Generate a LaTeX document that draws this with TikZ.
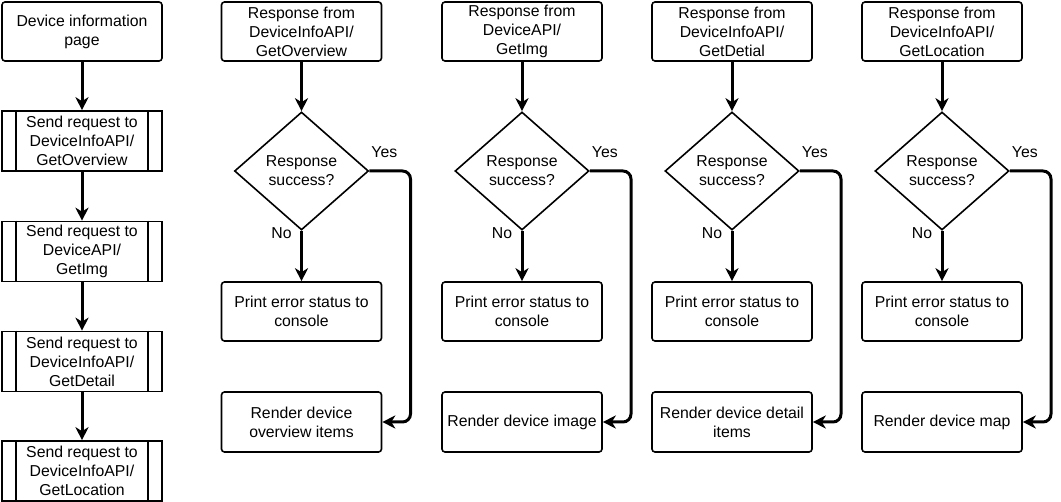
\documentclass[tikz,border=0pt]{standalone}
\usepackage{fontspec}
\setmainfont{Liberation Sans}
\usetikzlibrary{shapes.geometric,arrows.meta}
\begin{document}
\begin{tikzpicture}[x=1pt,y=-1pt,
  txt/.style={font=\fontsize{15.8}{19}\selectfont},
  box/.style={txt,draw,line width=1.6pt,rounded corners=3pt,minimum width=160pt,minimum height=59pt,inner sep=1pt,align=center},
  subbox/.style={box,rounded corners=0pt,minimum height=60pt},
  dec/.style={txt,draw,line width=1.6pt,shape=diamond,aspect=1,minimum width=134pt,minimum height=118pt,inner sep=0pt,align=center},
  arr/.style={line width=3pt,-{Stealth[length=13pt,width=13pt,inset=4pt]}},
  yesarr/.style={arr,rounded corners=8pt},
  lbl/.style={txt,inner sep=0pt}
]
\useasboundingbox (0,0) rectangle (1061,502);

% left column
\node[box] (dip) at (82,31.5) {Device information\\page};
\node[subbox] (s1) at (82,141) {Send request to\\DeviceInfoAPI/\\GetOverview};
\node[subbox] (s2) at (82,251.5) {Send request to\\DeviceAPI/\\GetImg};
\node[subbox] (s3) at (82,361.5) {Send request to\\DeviceInfoAPI/\\GetDetail};
\node[subbox] (s4) at (82,471) {Send request to\\DeviceInfoAPI/\\GetLocation};
\foreach \n in {s1,s2,s3,s4}{
  \draw[line width=1.6pt] ([xshift=15pt]\n.north west) -- ([xshift=15pt]\n.south west);
  \draw[line width=1.6pt] ([xshift=-15pt]\n.north east) -- ([xshift=-15pt]\n.south east);
}
\draw[arr] (dip.south) -- (s1.north);
\draw[arr] (s1.south) -- (s2.north);
\draw[arr] (s2.south) -- (s3.north);
\draw[arr] (s3.south) -- (s4.north);

% column A
\node[box] (ta) at (301.5,31.5) {Response from\\DeviceInfoAPI/\\GetOverview};
\node[dec] (da) at (301.5,171) {Response\\success?};
\node[box] (pa) at (301.5,311.5) {Print error status to\\console};
\node[box,minimum height=60pt] (ra) at (301.5,422) {Render device\\overview items};
\coordinate (ca) at (410.5,171);
\draw[arr] (ta.south) -- (da.north);
\draw[arr] (da.south) -- (pa.north);
\draw[yesarr] (da.east) -- (ca) -- (ca |- ra.east) -- (ra.east);
\node[lbl] (ya) at ([shift={(15,-19)}]da.east) {Yes};
\node[lbl] (na) at ([shift={(-20,2)}]da.south) {No};

% column B
\node[box] (tb) at (522,31.5) {Response from\\DeviceAPI/\\GetImg};
\node[dec] (db) at (522,171) {Response\\success?};
\node[box] (pb) at (522,311.5) {Print error status to\\console};
\node[box,minimum height=60pt] (rb) at (522,422) {Render device image};
\coordinate (cb) at (631,171);
\draw[arr] (tb.south) -- (db.north);
\draw[arr] (db.south) -- (pb.north);
\draw[yesarr] (db.east) -- (cb) -- (cb |- rb.east) -- (rb.east);
\node[lbl] (yb) at ([shift={(15,-19)}]db.east) {Yes};
\node[lbl] (nb) at ([shift={(-20,2)}]db.south) {No};

% column C
\node[box] (tc) at (732,31.5) {Response from\\DeviceInfoAPI/\\GetDetial};
\node[dec] (dc) at (732,171) {Response\\success?};
\node[box] (pc) at (732,311.5) {Print error status to\\console};
\node[box,minimum height=60pt] (rc) at (732,422) {Render device detail\\items};
\coordinate (cc) at (841,171);
\draw[arr] (tc.south) -- (dc.north);
\draw[arr] (dc.south) -- (pc.north);
\draw[yesarr] (dc.east) -- (cc) -- (cc |- rc.east) -- (rc.east);
\node[lbl] (yc) at ([shift={(15,-19)}]dc.east) {Yes};
\node[lbl] (nc) at ([shift={(-20,2)}]dc.south) {No};

% column D
\node[box] (td) at (942,31.5) {Response from\\DeviceInfoAPI/\\GetLocation};
\node[dec] (dd) at (942,171) {Response\\success?};
\node[box] (pd) at (942,311.5) {Print error status to\\console};
\node[box,minimum height=60pt] (rd) at (942,422) {Render device map};
\coordinate (cd) at (1051,171);
\draw[arr] (td.south) -- (dd.north);
\draw[arr] (dd.south) -- (pd.north);
\draw[yesarr] (dd.east) -- (cd) -- (cd |- rd.east) -- (rd.east);
\node[lbl] (yd) at ([shift={(15,-19)}]dd.east) {Yes};
\node[lbl] (nd) at ([shift={(-20,2)}]dd.south) {No};
\end{tikzpicture}
\end{document}
